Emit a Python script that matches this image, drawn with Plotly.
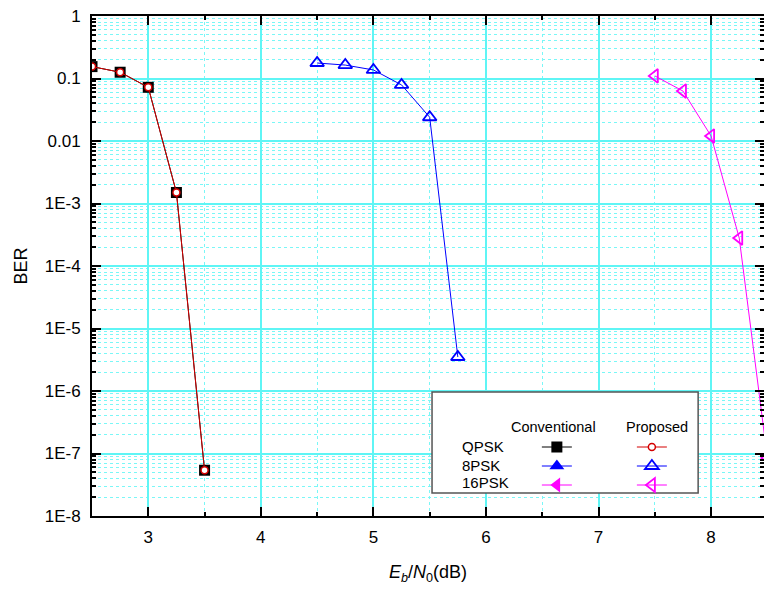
import plotly.graph_objects as go

# ---- data ----
ebn0_qpsk = [2.5, 2.75, 3.0, 3.25, 3.5]
ber_qpsk_conv = [0.155, 0.126, 0.0723, 1.5e-3, 5.4e-8]
ber_qpsk_prop = [0.155, 0.126, 0.0723, 1.5e-3, 5.4e-8]

ebn0_8psk = [4.5, 4.75, 5.0, 5.25, 5.5, 5.75]
ber_8psk_prop = [0.177, 0.164, 0.137, 0.079, 0.024, 3.5e-6]

ebn0_16psk = [7.5, 7.75, 8.0, 8.25, 8.5]
ber_16psk_prop = [0.11, 0.063, 0.012, 2.8e-4, 8.5e-8]

y_tickvals = [1, 0.1, 0.01, 1e-3, 1e-4, 1e-5, 1e-6, 1e-7, 1e-8]
y_ticktext = ["1", "0.1", "0.01", "1E-3", "1E-4", "1E-5", "1E-6", "1E-7", "1E-8"]
x_tickvals = [3, 4, 5, 6, 7, 8]

FONT = "Liberation Sans, Arial, sans-serif"
CYAN = "#5ff5f5"
CYAN_MINOR = "#7af7f7"
RED = "#d40000"
BLUE = "#0000ff"
MAG = "#ff00ff"
PAD = "\u00a0" * 15

fig = go.Figure()

# Conventional column
fig.add_trace(go.Scatter(
    x=ebn0_qpsk, y=ber_qpsk_conv, mode="lines+markers", name=PAD,
    legendgroup="conv", line=dict(color="black", width=1),
    marker=dict(symbol="square", size=11, color="black")))
fig.add_trace(go.Scatter(
    x=[None], y=[None], mode="lines+markers", name=PAD,
    legendgroup="conv", line=dict(color=BLUE, width=1),
    marker=dict(symbol="triangle-up", size=13, color=BLUE)))
fig.add_trace(go.Scatter(
    x=[None], y=[None], mode="lines+markers", name=PAD,
    legendgroup="conv", line=dict(color=MAG, width=1),
    marker=dict(symbol="triangle-left", size=13, color=MAG)))

# Proposed column
fig.add_trace(go.Scatter(
    x=ebn0_qpsk, y=ber_qpsk_prop, mode="lines+markers", name=PAD,
    legendgroup="prop", line=dict(color=RED, width=1),
    marker=dict(symbol="circle", size=7, color="white",
                line=dict(color=RED, width=1.5))))
fig.add_trace(go.Scatter(
    x=ebn0_8psk, y=ber_8psk_prop, mode="lines+markers", name=PAD,
    legendgroup="prop", line=dict(color=BLUE, width=1),
    marker=dict(symbol="triangle-up", size=12, color="rgba(255,255,255,0)",
                line=dict(color=BLUE, width=1.8))))
fig.add_trace(go.Scatter(
    x=ebn0_16psk, y=ber_16psk_prop, mode="lines+markers", name=PAD,
    legendgroup="prop", line=dict(color=MAG, width=1),
    marker=dict(symbol="triangle-left", size=12, color="rgba(255,255,255,0)",
                line=dict(color=MAG, width=1.8))))

# minor tick values for the log axis
y_minor = [m * 10.0 ** e for e in range(-8, 0) for m in range(2, 10)]

fig.update_layout(
    width=764, height=590,
    margin=dict(l=92, r=0, t=16, b=74),
    paper_bgcolor="white", plot_bgcolor="white",
    font=dict(family=FONT, size=17, color="black"),
    showlegend=True,
    legend=dict(
        orientation="h", traceorder="grouped",
        x=0.662, y=0.167, xanchor="left", yanchor="top",
        bgcolor="rgba(0,0,0,0)", borderwidth=0,
        font=dict(size=12), tracegroupgap=0,
    ),
    xaxis=dict(
        range=[2.5, 8.47], tickmode="array", tickvals=x_tickvals,
        automargin=False, ticklabeloverflow="allow",
        showline=True, linecolor="black", linewidth=2, mirror="ticks",
        ticks="inside", ticklen=9, tickwidth=2, tickcolor="black",
        showgrid=True, gridcolor=CYAN, gridwidth=1.5, zeroline=False,
        minor=dict(dtick=0.5, ticks="inside", ticklen=4, tickwidth=1.5,
                   tickcolor="black", showgrid=True, gridcolor=CYAN_MINOR,
                   griddash="dot", gridwidth=1),
        title=dict(text="<i>E</i><sub><i>b</i></sub>/<i>N</i><sub>0</sub>(dB)",
                   font=dict(size=18), standoff=19),
        ticklabelstandoff=5,
    ),
    yaxis=dict(
        type="log", range=[-8, 0], tickmode="array",
        tickvals=y_tickvals, ticktext=y_ticktext,
        automargin=False, ticklabeloverflow="allow",
        showline=True, linecolor="black", linewidth=2, mirror="ticks",
        ticks="inside", ticklen=9, tickwidth=2, tickcolor="black",
        showgrid=True, gridcolor=CYAN, gridwidth=1.5, zeroline=False,
        minor=dict(tickmode="array", tickvals=y_minor, ticks="inside",
                   ticklen=4, tickwidth=1.5, tickcolor="black",
                   showgrid=True, gridcolor=CYAN_MINOR, griddash="dot",
                   gridwidth=1),
        title=dict(text="BER", font=dict(size=18), standoff=12),
        ticklabelstandoff=6,
    ),
)

# legend box and labels (paper coordinates of the plot area)
fig.add_shape(type="rect", xref="paper", yref="paper",
              x0=0.506, x1=0.902, y0=0.046, y1=0.248,
              fillcolor="white", line=dict(color="#555555", width=1.5),
              layer="above")
for txt, xp, yp in [("Conventional", 553, 427), ("Proposed", 657, 427)]:
    fig.add_annotation(text=txt, xref="paper", yref="paper",
                       x=(xp - 92) / 672, y=(516 - yp) / 500,
                       showarrow=False,
                       font=dict(family=FONT, size=14.5, color="black"),
                       xanchor="center", yanchor="middle")
for txt, yp in [("QPSK", 446), ("8PSK", 465), ("16PSK", 483)]:
    fig.add_annotation(text=txt, xref="paper", yref="paper",
                       x=(460 - 92) / 672, y=(516 - yp) / 500,
                       showarrow=False,
                       font=dict(family=FONT, size=15, color="black"),
                       xanchor="left", yanchor="middle")

fig.write_html(
    "out.html",
    config={"displayModeBar": False},
    post_script="document.body.style.margin='0';document.body.style.overflow='hidden';",
)
